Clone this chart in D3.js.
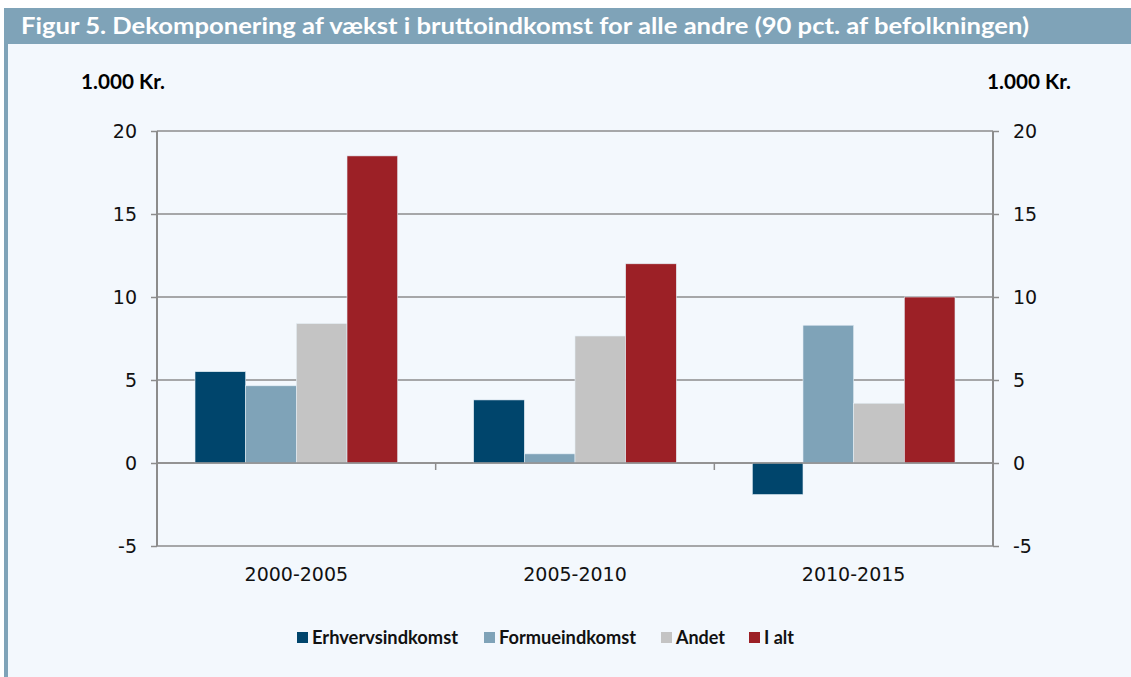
<!DOCTYPE html>
<html>
<head>
<meta charset="utf-8">
<script src="https://cdnjs.cloudflare.com/ajax/libs/d3/7.8.5/d3.min.js"></script>
<style>
body { margin: 0; background: #ffffff; }
</style>
</head>
<body>
<div id="chart"></div>
<script>
// data
var periods = ["2000-2005", "2005-2010", "2010-2015"];
var seriesNames = ["Erhvervsindkomst", "Formueindkomst", "Andet", "I alt"];
var erhverv = [5.5, 3.8, -1.9];
var formue = [4.65, 0.55, 8.3];
var andet = [8.4, 7.65, 3.6];
var iAlt = [18.5, 12.0, 10.0];
var yTicks = [-5, 0, 5, 10, 15, 20];
var colors = ["#00456c", "#7fa3b8", "#c4c4c4", "#9c2026"];

var width = 1131, height = 677;
var plotLeft = 157, plotRight = 993, plotTop = 131, plotBottom = 546;

var svg = d3.select("#chart").append("svg")
    .attr("width", width)
    .attr("height", height);

// panel background + frame
svg.append("rect").attr("x", 5).attr("y", 8).attr("width", width - 5).attr("height", height - 8)
    .attr("fill", "#f3f8fd");
svg.append("rect").attr("x", 4).attr("y", 8).attr("width", width - 4).attr("height", 36)
    .attr("fill", "#7fa3b8");
svg.append("rect").attr("x", 4).attr("y", 8).attr("width", 4).attr("height", height - 8)
    .attr("fill", "#7fa3b8");
svg.append("text")
    .attr("x", 21).attr("y", 34)
    .attr("fill", "#ffffff")
    .style("font-family", "Lato, sans-serif")
    .style("font-weight", "bold")
    .style("font-size", "22px")
    .attr("textLength", 1008)
    .attr("lengthAdjust", "spacingAndGlyphs")
    .text("Figur 5. Dekomponering af vækst i bruttoindkomst for alle andre (90 pct. af befolkningen)");

var y = d3.scaleLinear().domain([-5, 20]).range([plotBottom, plotTop]);
var x0 = d3.scaleBand().domain(periods).range([plotLeft, plotRight]).paddingInner(0.2727).paddingOuter(0.1364);
var x1 = d3.scaleBand().domain(seriesNames).range([0, x0.bandwidth()]);

var grey = "#8c8c8c";

// gridlines
svg.append("g").selectAll("line").data(yTicks).enter().append("line")
    .attr("x1", plotLeft).attr("x2", plotRight)
    .attr("y1", function(d) { return y(d); })
    .attr("y2", function(d) { return y(d); })
    .attr("stroke", grey).attr("stroke-width", 1.5);

// bars
var table = periods.map(function(p, i) {
    return { period: p, values: [erhverv[i], formue[i], andet[i], iAlt[i]] };
});
var groups = svg.append("g").selectAll("g").data(table).enter().append("g")
    .attr("transform", function(d) { return "translate(" + x0(d.period) + ",0)"; });
groups.selectAll("rect").data(function(d) { return d.values; }).enter().append("rect")
    .attr("x", function(d, i) { return x1(seriesNames[i]); })
    .attr("width", x1.bandwidth())
    .attr("y", function(d) { return y(Math.max(0, d)); })
    .attr("height", function(d) { return Math.abs(y(d) - y(0)); })
    .attr("fill", function(d, i) { return colors[i]; })
    .attr("stroke", "#e4eef6").attr("stroke-width", 0.6);

// zero line on top
svg.append("line").attr("x1", plotLeft).attr("x2", plotRight)
    .attr("y1", y(0)).attr("y2", y(0))
    .attr("stroke", grey).attr("stroke-width", 1.5);

// axes
var tickFont = "'DejaVu Sans', Verdana, sans-serif";
var fmt = function(d) { return String(d); };
var yLeft = svg.append("g").attr("transform", "translate(" + plotLeft + ",0)")
    .call(d3.axisLeft(y).tickValues(yTicks).tickSize(6).tickPadding(14).tickFormat(fmt));
var yRight = svg.append("g").attr("transform", "translate(" + plotRight + ",0)")
    .call(d3.axisRight(y).tickValues(yTicks).tickSize(6).tickPadding(14).tickFormat(fmt));
[yLeft, yRight].forEach(function(g) {
    g.select(".domain").attr("stroke", grey).attr("stroke-width", 2)
        .attr("d", "M0," + plotTop + "V" + plotBottom);
    g.selectAll(".tick line").attr("stroke", grey).attr("stroke-width", 1.5);
    g.selectAll("text").style("font-family", tickFont).style("font-size", "19px").attr("fill", "#111");
});

// category separators on zero line
var seps = [periods[1], periods[2]].map(function(p) { return x0(p) - x0.step() * x0.paddingInner() / 2; });
svg.append("g").selectAll("line").data(seps).enter().append("line")
    .attr("x1", function(d) { return d; }).attr("x2", function(d) { return d; })
    .attr("y1", y(0)).attr("y2", y(0) + 7)
    .attr("stroke", grey).attr("stroke-width", 1.5);

// category labels
svg.append("g").selectAll("text").data(periods).enter().append("text")
    .attr("x", function(d) { return x0(d) + x0.bandwidth() / 2; })
    .attr("y", 581)
    .attr("text-anchor", "middle")
    .style("font-family", tickFont).style("font-size", "19px").attr("fill", "#111")
    .text(function(d) { return d; });

// unit labels
svg.append("text").attr("x", 81).attr("y", 89)
    .style("font-family", "Lato, sans-serif").style("font-weight", "bold").style("font-size", "20px")
    .attr("textLength", 84).attr("lengthAdjust", "spacingAndGlyphs")
    .text("1.000 Kr.");
svg.append("text").attr("x", 987).attr("y", 89)
    .style("font-family", "Lato, sans-serif").style("font-weight", "bold").style("font-size", "20px")
    .attr("textLength", 84).attr("lengthAdjust", "spacingAndGlyphs")
    .text("1.000 Kr.");

// legend
var legendX = [297, 484, 661, 749];
var legendW = [146, 137, 49, 30];
var legend = svg.append("g").selectAll("g").data(seriesNames).enter().append("g")
    .attr("transform", function(d, i) { return "translate(" + legendX[i] + ",632)"; });
legend.append("rect").attr("width", 11).attr("height", 11)
    .attr("fill", function(d, i) { return colors[i]; });
legend.append("text").attr("x", 15).attr("y", 11.5)
    .style("font-family", "Lato, sans-serif").style("font-weight", "bold").style("font-size", "19px")
    .attr("fill", "#111")
    .attr("textLength", function(d, i) { return legendW[i]; })
    .attr("lengthAdjust", "spacingAndGlyphs")
    .text(function(d) { return d; });
</script>
</body>
</html>
